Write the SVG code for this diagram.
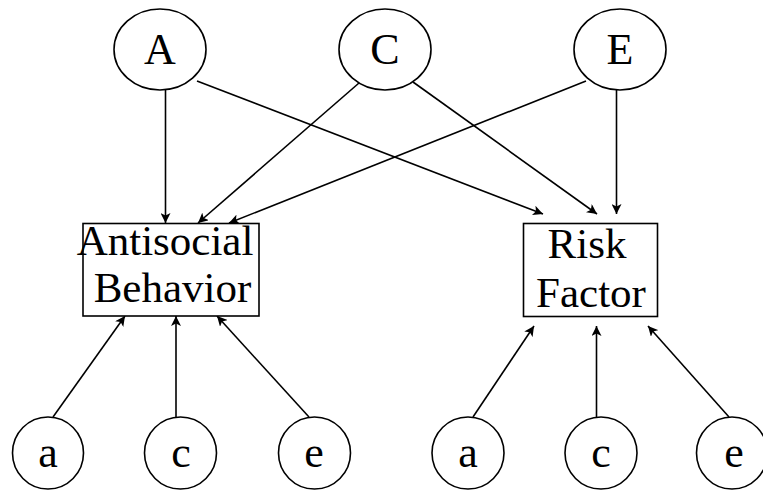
<svg xmlns="http://www.w3.org/2000/svg" width="763" height="491" viewBox="0 0 763 491">
  <style>
    .node { fill: #fff; stroke: #000; stroke-width: 1.6; }
    .lbl { font-family: "Liberation Serif", "Times New Roman", serif; font-size: 44px; fill: #000; text-anchor: middle; }
    .box { font-size: 43px; }
    .edge { stroke: #000; stroke-width: 1.6; fill: none; marker-end: url(#arrow); }
  </style>
  <defs>
    <marker id="arrow" viewBox="0 0 10 10" refX="10" refY="5" markerWidth="10" markerHeight="10" markerUnits="userSpaceOnUse" orient="auto">
      <path d="M0,0 L10,5 L0,10 L2.5,5 Z" fill="#000"/>
    </marker>
  </defs>

  <g id="connectors">
    <line class="edge" x1="165.5" y1="90" x2="165.5" y2="223"/>
    <line class="edge" x1="197" y1="81" x2="543" y2="214"/>
    <line class="edge" x1="359" y1="83" x2="198" y2="223"/>
    <line class="edge" x1="413" y1="82" x2="597" y2="214"/>
    <line class="edge" x1="586" y1="81" x2="229" y2="223"/>
    <line class="edge" x1="616.5" y1="90" x2="616.5" y2="214"/>

    <line class="edge" x1="53" y1="417" x2="125" y2="316"/>
    <line class="edge" x1="176" y1="417" x2="176" y2="316"/>
    <line class="edge" x1="309" y1="417" x2="217" y2="316"/>

    <line class="edge" x1="473" y1="417" x2="534" y2="326"/>
    <line class="edge" x1="596.5" y1="417" x2="596.5" y2="326"/>
    <line class="edge" x1="729" y1="417" x2="648" y2="326"/>
  </g>

  <g id="node-A">
    <ellipse class="node" cx="160" cy="49.5" rx="46" ry="40.5"/>
    <text class="lbl" x="160" y="64">A</text>
  </g>
  <g id="node-C">
    <ellipse class="node" cx="385" cy="49.5" rx="46" ry="40.5"/>
    <text class="lbl" x="385" y="64">C</text>
  </g>
  <g id="node-E">
    <ellipse class="node" cx="620" cy="49.5" rx="46" ry="40.5"/>
    <text class="lbl" x="620" y="64">E</text>
  </g>

  <g id="node-antisocial">
    <rect class="node" x="83" y="223.5" width="176" height="92.5"/>
    <text class="lbl box" x="165" y="255">Antisocial</text>
    <text class="lbl box" x="172.5" y="302">Behavior</text>
  </g>
  <g id="node-risk">
    <rect class="node" x="523.5" y="223.5" width="134" height="93"/>
    <text class="lbl box" x="587" y="258">Risk</text>
    <text class="lbl box" x="591" y="307">Factor</text>
  </g>

  <g id="node-a1">
    <ellipse class="node" cx="48" cy="453" rx="35.5" ry="36"/>
    <text class="lbl" x="48" y="467">a</text>
  </g>
  <g id="node-c1">
    <ellipse class="node" cx="180.5" cy="453" rx="36" ry="36"/>
    <text class="lbl" x="181" y="467">c</text>
  </g>
  <g id="node-e1">
    <ellipse class="node" cx="314.5" cy="453" rx="36" ry="36"/>
    <text class="lbl" x="314" y="467">e</text>
  </g>

  <g id="node-a2">
    <ellipse class="node" cx="468" cy="453" rx="36" ry="36"/>
    <text class="lbl" x="468" y="467">a</text>
  </g>
  <g id="node-c2">
    <ellipse class="node" cx="601" cy="453" rx="36" ry="36"/>
    <text class="lbl" x="601" y="467">c</text>
  </g>
  <g id="node-e2">
    <ellipse class="node" cx="732" cy="453" rx="35.5" ry="36"/>
    <text class="lbl" x="734" y="467">e</text>
  </g>
</svg>
